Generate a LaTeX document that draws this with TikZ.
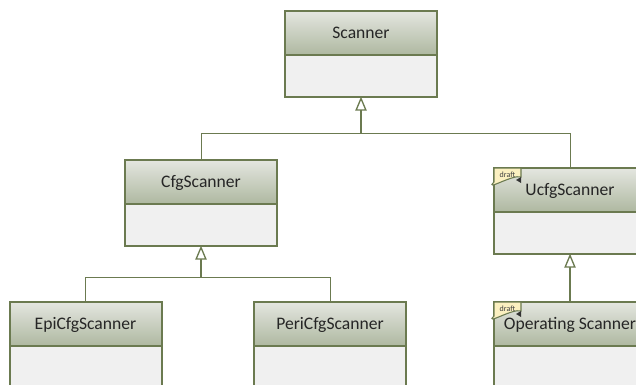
\documentclass[tikz,border=0pt]{standalone}
\usepackage{fontspec}
\setmainfont{Carlito}
\usetikzlibrary{arrows.meta}

\definecolor{umlline}{HTML}{6B7A50}
\definecolor{umltop}{HTML}{E4E6E0}
\definecolor{umlbot}{HTML}{AEB8A0}
\definecolor{umlbody}{HTML}{F0F0F0}
\definecolor{tagfill}{HTML}{FBF0C0}

\tikzstyle{head}=[rectangle,draw=umlline,line width=1.5pt,top color=umltop,bottom color=umlbot,minimum width=114pt,minimum height=33pt,inner sep=0pt,text height=10.5pt,text depth=2.3pt,font=\fontsize{13.2}{14}\selectfont,text=black!85]
\tikzstyle{body}=[rectangle,draw=umlline,line width=1.5pt,fill=umlbody,minimum width=114pt,minimum height=31.5pt,inner sep=0pt]
\tikzstyle{link}=[draw=umlline,line width=0.75pt]
\tikzstyle{inherit}=[draw=umlline,line width=1.1pt,-{Triangle[open,fill=white,length=10.5pt,width=8.5pt,line width=1pt]}]
\tikzstyle{tag}=[font=\fontsize{6}{6}\selectfont,text=black!75,inner sep=0pt]

\begin{document}
\begin{tikzpicture}[x=0.75pt,y=-0.75pt]
	\clip (0,0) rectangle (636,385);
	\useasboundingbox (0,0) rectangle (636,385);

	% Top class
	\node[head] (scanhead) at (361,33) {Scanner};
	\node[body] (scanbody) at (361,76) {};

	% Second row
	\node[head] (cfghead) at (201,182) {CfgScanner};
	\node[body] (cfgbody) at (201,225) {};
	\node[head] (ucfghead) at (570,190) {UcfgScanner};
	\node[body] (ucfgbody) at (570,233) {};

	% Third row
	\node[head] (epihead) at (85.5,324) {EpiCfgScanner};
	\node[body] (epibody) at (85.5,367) {};
	\node[head] (perihead) at (330,324) {PeriCfgScanner};
	\node[body] (peribody) at (330,367) {};
	\node[head] (ophead) at (570,324) {Operating Scanner};
	\node[body] (opbody) at (570,367) {};

	% Inheritance
	\coordinate (scanjoin) at (361,133.5);
	\coordinate (cfgjoin) at (201,277.5);
	\draw[link] (cfghead.north) |- (scanjoin) -| (ucfghead.north);
	\draw[inherit,shorten >=-1pt] (scanjoin) -- (scanbody.south);
	\draw[link] (epihead.north) |- (cfgjoin) -| (perihead.north);
	\draw[inherit,shorten >=-1pt] (cfgjoin) -- (cfgbody.south);
	\draw[inherit,shorten >=-1pt] (ophead.north) -- (ucfgbody.south);

	% Draft tags
	\foreach \tagname/\tagx/\tagy in {ucfgtag/494/168,optag/494/302}{
		\draw[draw=umlline,line width=0.8pt,fill=tagfill] (\tagx,\tagy) -- ++(27,0) -- ++(0,9)
			.. controls +(-8,-3) and +(-10,10) .. ++(-27,5) -- cycle;
		\fill[black!80] (\tagx+27,\tagy+9) -- ++(0,6) -- ++(-5,-3) -- cycle;
		\node[tag] (\tagname) at (\tagx+13.5,\tagy+7) {draft};
	}
\end{tikzpicture}
\end{document}
